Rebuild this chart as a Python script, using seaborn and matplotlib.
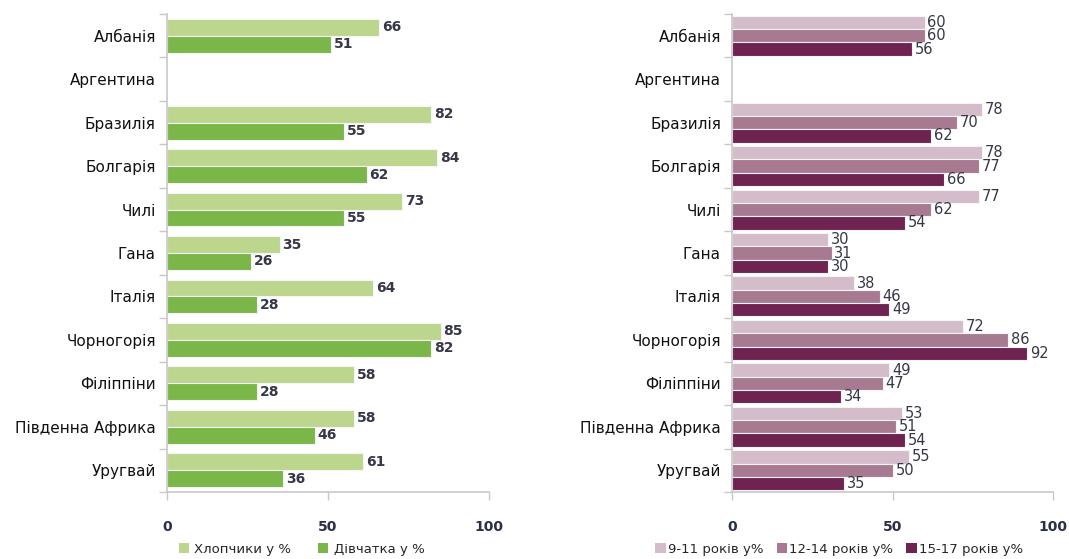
import numpy as np
import pandas as pd
import matplotlib
matplotlib.use("Agg")
import matplotlib.pyplot as plt
import seaborn as sns
from matplotlib.ticker import FixedLocator
from matplotlib.patches import Patch

countries = ["Албанія", "Аргентина", "Бразилія", "Болгарія", "Чилі", "Гана", "Італія",
             "Чорногорія", "Філіппіни", "Південна Африка", "Уругвай"]
boys = [66, np.nan, 82, 84, 73, 35, 64, 85, 58, 58, 61]
girls = [51, np.nan, 55, 62, 55, 26, 28, 82, 28, 46, 36]
age_9_11 = [60, np.nan, 78, 78, 77, 30, 38, 72, 49, 53, 55]
age_12_14 = [60, np.nan, 70, 77, 62, 31, 46, 86, 47, 51, 50]
age_15_17 = [56, np.nan, 62, 66, 54, 30, 49, 92, 34, 54, 35]

left_names = ["Хлопчики у %", "Дівчатка у %"]
right_names = ["9-11 років у%", "12-14 років у%", "15-17 років у%"]
x_ticks = [0, 50, 100]

sns.set_theme(style="white")
plt.rcParams["font.family"] = ["DejaVu Sans"]

def long_df(series, names):
    rows = []
    for name, vals in zip(names, series):
        for c, v in zip(countries, vals):
            rows.append({"country": c, "series": name, "value": v})
    return pd.DataFrame(rows)

fig = plt.figure(figsize=(10.69, 5.59), dpi=100)
ax1 = fig.add_axes([0.1562, 0.1199, 0.3012, 0.855])
ax2 = fig.add_axes([0.6848, 0.1199, 0.3003, 0.855])

left_pal = ["#bcd68e", "#7ab648"]
right_pal = ["#d4bccb", "#a87a91", "#6e2350"]

def draw(ax, df, names, pal, width, lblweight, lblsize):
    sns.barplot(data=df, y="country", x="value", hue="series", order=countries,
                hue_order=names, palette=pal, orient="h", width=width, ax=ax,
                saturation=1, edgecolor="#f4f4f4", linewidth=0.8, errorbar=None,
                legend=False)
    for c in ax.containers:
        labels = [f"{v:.0f}" if np.isfinite(v) else "" for v in c.datavalues]
        ax.bar_label(c, labels=labels, padding=2, fontsize=lblsize, color="#363848",
                     fontweight=lblweight)
    ax.set_xlim(0, 100)
    ax.set_ylim(len(countries) - 0.5, -0.5)
    ax.set_xlabel("")
    ax.set_ylabel("")
    ax.set_xticks(x_ticks)
    ax.set_xticklabels([str(t) for t in x_ticks], fontsize=10, fontweight="bold",
                       color="#2a3048")
    ax.tick_params(axis="x", length=6, width=1, color="#c8c8c8", pad=14, direction="out",
                   bottom=True)
    ax.tick_params(axis="y", which="major", length=0, labelsize=11, pad=8,
                   labelcolor="#111111")
    ax.yaxis.set_minor_locator(FixedLocator(np.arange(-0.5, len(countries), 1.0)))
    ax.tick_params(axis="y", which="minor", length=6, width=1, color="#c8c8c8",
                   direction="out", left=True)
    for s in ["top", "right"]:
        ax.spines[s].set_visible(False)
    for s in ["left", "bottom"]:
        ax.spines[s].set_color("#c8c8c8")
        ax.spines[s].set_linewidth(1.2)

draw(ax1, long_df([boys, girls], left_names), left_names, left_pal, 0.78, "bold", 10)
draw(ax2, long_df([age_9_11, age_12_14, age_15_17], right_names), right_names,
     right_pal, 0.92, "normal", 10.5)

h1 = [Patch(facecolor=c, edgecolor="none") for c in left_pal]
h2 = [Patch(facecolor=c, edgecolor="none") for c in right_pal]
fig.legend(h1, left_names, loc="center", bbox_to_anchor=(0.282, 0.017), ncol=2,
           frameon=False, fontsize=9.5, handlelength=0.8, handleheight=0.8,
           handletextpad=0.4, columnspacing=2.0)
fig.legend(h2, right_names, loc="center", bbox_to_anchor=(0.785, 0.017), ncol=3,
           frameon=False, fontsize=9.5, handlelength=0.8, handleheight=0.8,
           handletextpad=0.15, columnspacing=1.0)

fig.savefig("out.png", dpi=100)
